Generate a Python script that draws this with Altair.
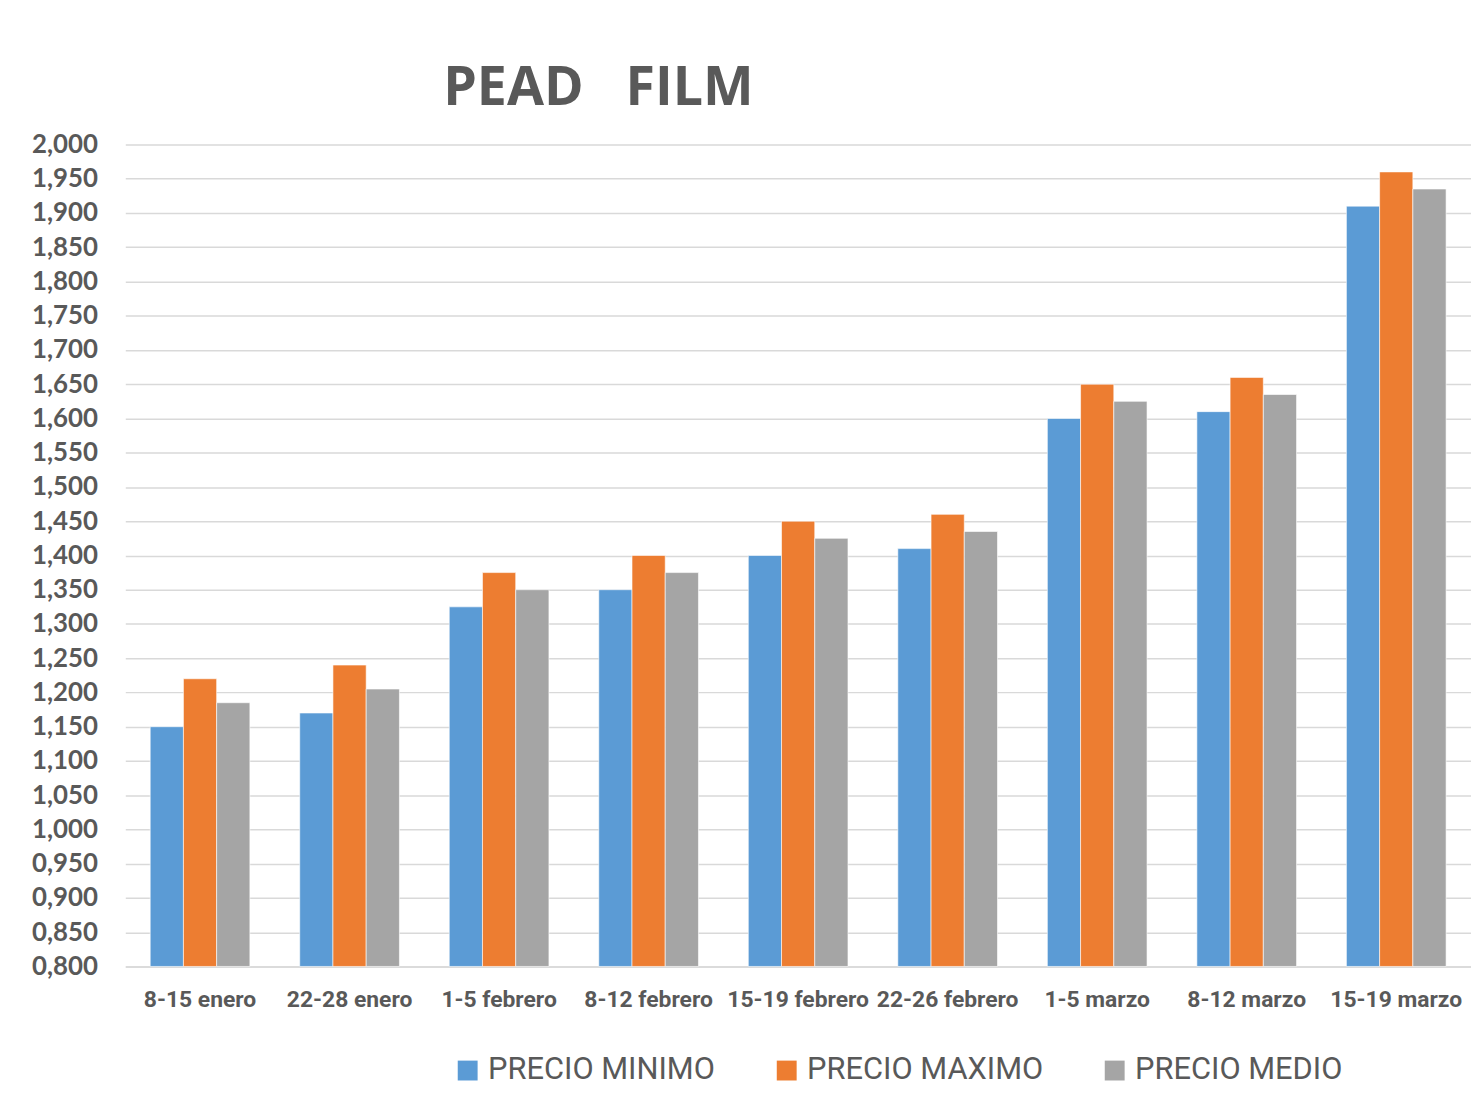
import altair as alt
import pandas as pd

categories = ["8-15 enero", "22-28 enero", "1-5 febrero", "8-12 febrero", "15-19 febrero",
              "22-26 febrero", "1-5 marzo", "8-12 marzo", "15-19 marzo"]
series = ["PRECIO MINIMO", "PRECIO MAXIMO", "PRECIO MEDIO"]
precio_minimo = [1.150, 1.170, 1.325, 1.350, 1.400, 1.410, 1.600, 1.610, 1.910]
precio_maximo = [1.220, 1.240, 1.375, 1.400, 1.450, 1.460, 1.650, 1.660, 1.960]
precio_medio = [1.185, 1.205, 1.350, 1.375, 1.425, 1.435, 1.625, 1.635, 1.935]
colors = ["#5B9BD5", "#ED7D31", "#A5A5A5"]
y_min, y_max, y_step = 0.8, 2.0, 0.05

rows = []
for i, c in enumerate(categories):
    for s, vals in zip(series, [precio_minimo, precio_maximo, precio_medio]):
        rows.append({"semana": c, "serie": s, "valor": vals[i]})
df = pd.DataFrame(rows)

grey = "#595959"

chart = alt.Chart(df).mark_bar(stroke="white", strokeWidth=0.6).encode(
    x=alt.X("semana:N", sort=categories, title=None,
            scale=alt.Scale(paddingInner=1/3, paddingOuter=1/6),
            axis=alt.Axis(labelAngle=0, labelFont="Roboto", labelFontWeight="bold",
                          labelFontSize=23, labelColor=grey, labelPadding=22,
                          labelLimit=300, ticks=False, domainColor="#d9d9d9",
                          domainWidth=1.5, grid=False)),
    xOffset=alt.XOffset("serie:N", sort=series),
    y=alt.Y("valor:Q", title=None,
            scale=alt.Scale(domain=[y_min, y_max], zero=False, nice=False),
            axis=alt.Axis(values=[round(y_min + y_step * k, 3) for k in range(25)],
                          labelExpr="replace(format(datum.value, '.3f'), '.', ',')",
                          labelFont="Lato", labelFontWeight="bold", labelFontSize=26,
                          labelColor=grey, labelPadding=28, ticks=False, domain=False,
                          gridColor="#d9d9d9", gridWidth=1.5)),
    y2=alt.datum(y_min),
    color=alt.Color("serie:N", sort=series,
                    scale=alt.Scale(domain=series, range=colors),
                    legend=alt.Legend(title=None, orient="none", legendX=329, legendY=916,
                                      direction="horizontal", symbolType="square",
                                      symbolSize=400, symbolStrokeWidth=0,
                                      labelFont="Roboto", labelFontSize=31, labelLimit=500,
                                      labelColor=grey, columnPadding=56, labelOffset=5)),
).properties(
    width=1354,
    height=827,
    title=alt.TitleParams("PEAD\u00a0\u00a0\u00a0FILM", fontSize=54, font="Open Sans",
                          fontWeight="bold", color=grey, anchor="middle", dx=-201,
                          offset=16),
    autosize=alt.AutoSizeParams(type="none"),
    padding={"left": 118, "top": 134, "right": 0, "bottom": 123},
).configure_view(stroke=None)

chart.save("out.html", embed_options={"renderer": "svg", "actions": False})
